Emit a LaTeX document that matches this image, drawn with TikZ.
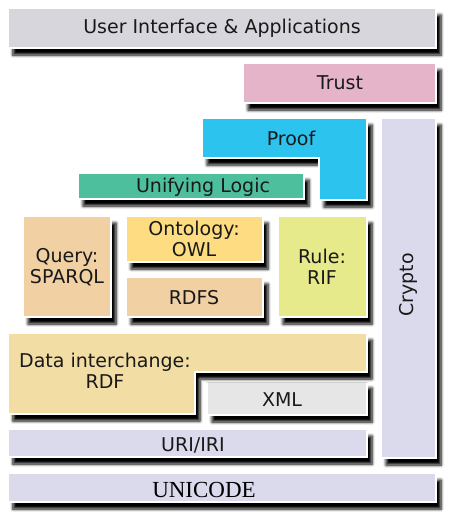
\documentclass[tikz,border=0pt]{standalone}
\usepackage{fontspec}
\setmainfont{DejaVu Sans}
\newfontfamily\serifuni{Liberation Serif}
\usetikzlibrary{shadows.blur}
\definecolor{cUI}{HTML}{D6D6DC}
\definecolor{cTrust}{HTML}{E6B4C9}
\definecolor{cProof}{HTML}{2CC3EF}
\definecolor{cCrypto}{HTML}{DADAEC}
\definecolor{cLogic}{HTML}{4DBF9C}
\definecolor{cQuery}{HTML}{F1D0A4}
\definecolor{cOnto}{HTML}{FEDC82}
\definecolor{cRule}{HTML}{E6EA8A}
\definecolor{cData}{HTML}{F2DEA4}
\definecolor{cXML}{HTML}{E6E6E6}
\tikzset{
  layer/.style={draw=white, line width=2pt,
    blur shadow={shadow xshift=5pt, shadow yshift=-7pt, shadow opacity=100, shadow blur steps=6, shadow blur radius=3pt, shadow blur extra rounding=0pt}},
  lbl/.style={font=\fontsize{19}{21}\selectfont, text=black!90, align=center, inner sep=0pt},
}
\begin{document}
\begin{tikzpicture}[x=1pt,y=-1pt]
\useasboundingbox (0,0) rectangle (455,519);
% UNICODE
\draw[layer, fill=cCrypto] (8,473) rectangle (436,502);
% Crypto
\draw[layer, fill=cCrypto] (381,118) rectangle (436,458);
% URI
\draw[layer, fill=cCrypto] (8,429) rectangle (367,457);
% XML
\draw[layer, fill=cXML] (207,381) rectangle (367,415);
% Data interchange L
\draw[layer, fill=cData] (8,333) -- (367,333) -- (367,372) -- (195,372) -- (195,414) -- (8,414) -- cycle;
% Query
\draw[layer, fill=cQuery] (23,216) rectangle (111,317);
% RDFS
\draw[layer, fill=cQuery] (126,277) rectangle (263,317);
% Ontology
\draw[layer, fill=cOnto] (126,216) rectangle (263,262);
% Rule
\draw[layer, fill=cRule] (278,216) rectangle (367,317);
% Unifying logic
\draw[layer, fill=cLogic] (78,173) rectangle (304,199);
% Proof L
\draw[layer, fill=cProof] (202,118) -- (367,118) -- (367,200) -- (319,200) -- (319,158) -- (202,158) -- cycle;
% Trust
\draw[layer, fill=cTrust] (243,63) rectangle (436,103);
% UI
\draw[layer, fill=cUI] (8,8) rectangle (436,48);

\node[lbl] (ui) at (222,28) {User Interface \& Applications};
\node[lbl] (trust) at (340,83) {Trust};
\node[lbl] (proof) at (291,138) {Proof};
\node[lbl] (logic) at (203,187) {Unifying Logic};
\node[lbl] (query) at (67,267) {Query:\\SPARQL};
\node[lbl] (onto) at (194,239) {Ontology:\\OWL};
\node[lbl] (rdfs) at (194,298) {RDFS};
\node[lbl] (rule) at (322,267) {Rule:\\RIF};
\node[lbl, rotate=90] (crypto) at (408,285) {Crypto};
\node[lbl] (data) at (105,371) {Data interchange:\\RDF};
\node[lbl] (xml) at (282,400) {XML};
\node[lbl] (uri) at (193,445) {URI/IRI};
\node[lbl, font=\serifuni\fontsize{23}{24}\selectfont, text=black] (uni) at (204,490) {UNICODE};
\end{tikzpicture}
\end{document}
